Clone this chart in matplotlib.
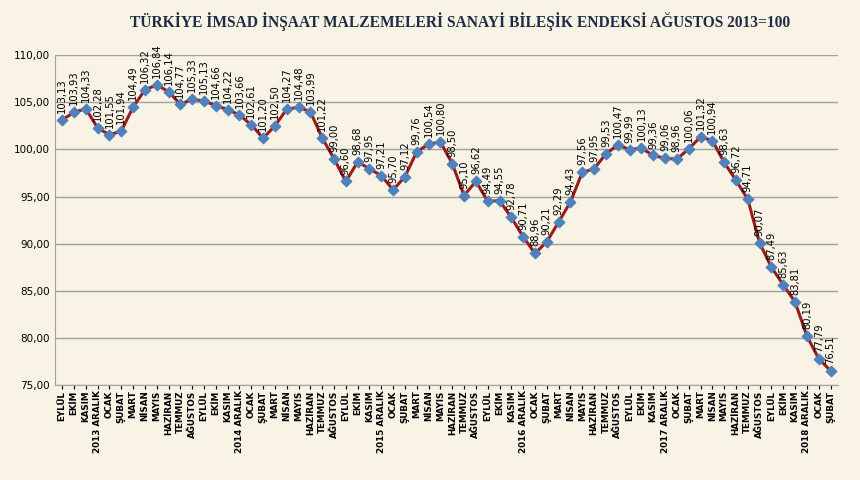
import matplotlib
matplotlib.use("Agg")
from matplotlib import pyplot as plt

months = ["OCAK", "ŞUBAT", "MART", "NİSAN", "MAYIS", "HAZİRAN", "TEMMUZ",
          "AĞUSTOS", "EYLÜL", "EKİM", "KASIM", "ARALIK"]

# EYLÜL 2013 .. ŞUBAT 2019
labels = []
for year in range(2013, 2020):
    for m, name in enumerate(months):
        if year == 2013 and m < 8:
            continue
        if year == 2019 and m > 1:
            break
        labels.append(f"{year} {name}" if name == "ARALIK" else name)

values = [103.13, 103.93, 104.33, 102.28, 101.55, 101.94, 104.49, 106.32, 106.84, 106.14,
          104.77, 105.33, 105.13, 104.66, 104.22, 103.66, 102.61, 101.20, 102.50, 104.27,
          104.48, 103.99, 101.22, 99.00, 96.60, 98.68, 97.95, 97.21, 95.70, 97.12,
          99.76, 100.54, 100.80, 98.50, 95.10, 96.62, 94.49, 94.55, 92.78, 90.71,
          88.96, 90.21, 92.29, 94.43, 97.56, 97.95, 99.53, 100.47, 99.99, 100.13,
          99.36, 99.06, 98.96, 100.06, 101.32, 100.94, 98.63, 96.72, 94.71, 90.07,
          87.49, 85.63, 83.81, 80.19, 77.79, 76.51]

bg = "#f8f3e4"
fig = plt.figure(figsize=(8.6, 4.8), dpi=100, facecolor=bg)
ax = fig.add_axes([0.064, 0.198, 0.91, 0.687])
ax.set_facecolor(bg)

x = list(range(len(values)))
ax.plot(x, values, color="#9b1b1b", lw=2.2, zorder=2)
ax.scatter(x, values, marker="D", s=28, color="#4f81bd", zorder=3)
for xi, v in zip(x, values):
    ax.annotate(f"{v:.2f}".replace(".", ","), (xi, v), xytext=(0, 5),
                textcoords="offset points", rotation=90, ha="center", va="bottom",
                fontsize=7.2, color="black")

ax.set_ylim(75, 110)
ax.set_yticks(range(75, 111, 5))
ax.set_yticklabels([f"{t},00" for t in range(75, 111, 5)], fontsize=7.5)
ax.set_xlim(-0.6, len(values) - 0.4)
ax.set_xticks(x)
ax.set_xticklabels(labels, rotation=90, fontsize=6.3, fontweight="bold")
ax.tick_params(axis="x", length=3, pad=1)
ax.tick_params(axis="y", length=0)
ax.grid(axis="y", color="#a0a0a0", lw=1)
for s in ["top", "right"]:
    ax.spines[s].set_visible(False)
ax.spines["left"].set_color("#a0a0a0")
ax.spines["bottom"].set_color("#a0a0a0")

fig.suptitle("TÜRKİYE İMSAD İNŞAAT MALZEMELERİ SANAYİ BİLEŞİK ENDEKSİ AĞUSTOS 2013=100",
             x=0.535, y=0.975, fontsize=11.2, fontweight="bold", family="Liberation Serif",
             color="#1f2a44")

fig.savefig("out.png", dpi=100, facecolor=bg)
